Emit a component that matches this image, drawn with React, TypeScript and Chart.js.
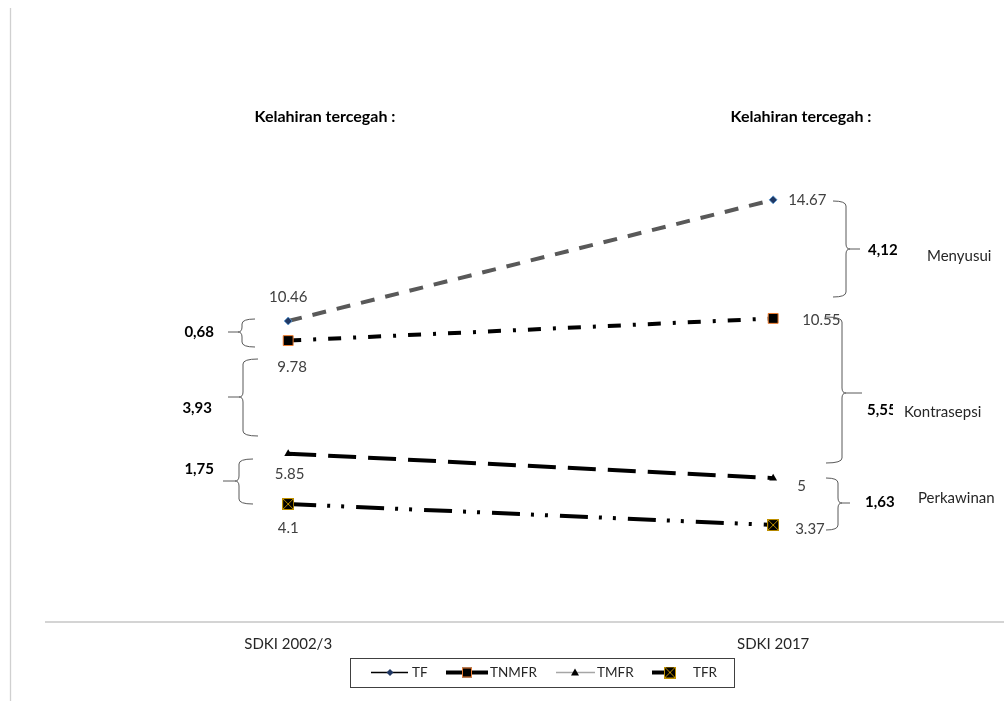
import React, { useEffect, useRef } from 'react';
import { Chart, registerables } from 'chart.js';

Chart.register(...registerables);

// ---- data ----
const periods = ['SDKI 2002/3', 'SDKI 2017'];
const seriesNames = ['TF', 'TNMFR', 'TMFR', 'TFR'];
const tfValues = [10.46, 14.67];
const tnmfrValues = [9.78, 10.55];
const tmfrValues = [5.85, 5];
const tfrValues = [4.1, 3.37];
const headerLabel = 'Kelahiran tercegah :';
const leftPrevented = ['0,68', '3,93', '1,75'];
const rightPrevented = ['4,12', '5,55', '1,63'];
const factors = ['Menyusui', 'Kontrasepsi', 'Perkawinan'];

const FONT = 'Lato, "Noto Sans", sans-serif';

function makeXSquare(): HTMLCanvasElement {
  const c = document.createElement('canvas');
  c.width = 12;
  c.height = 12;
  const g = c.getContext('2d')!;
  g.fillStyle = '#000';
  g.fillRect(0, 0, 12, 12);
  g.strokeStyle = '#bf9000';
  g.lineWidth = 1;
  g.strokeRect(0.5, 0.5, 11, 11);
  g.beginPath();
  g.moveTo(1, 1);
  g.lineTo(11, 11);
  g.moveTo(11, 1);
  g.lineTo(1, 11);
  g.stroke();
  return c;
}

function leftBrace(ctx: CanvasRenderingContext2D, vx: number, ex: number, y1: number, y2: number, ym: number, lx: number) {
  const r = 5;
  ctx.beginPath();
  ctx.moveTo(ex, y1);
  ctx.quadraticCurveTo(vx, y1, vx, y1 + r);
  ctx.lineTo(vx, ym - r);
  ctx.quadraticCurveTo(vx, ym, vx - 4, ym);
  ctx.lineTo(lx, ym);
  ctx.moveTo(vx - 4, ym);
  ctx.quadraticCurveTo(vx, ym, vx, ym + r);
  ctx.lineTo(vx, y2 - r);
  ctx.quadraticCurveTo(vx, y2, ex, y2);
  ctx.stroke();
}

function rightBrace(ctx: CanvasRenderingContext2D, vx: number, ex: number, y1: number, y2: number, ym: number, lx: number) {
  const r = 5;
  ctx.beginPath();
  ctx.moveTo(ex, y1);
  ctx.quadraticCurveTo(vx, y1, vx, y1 + r);
  ctx.lineTo(vx, ym - r);
  ctx.quadraticCurveTo(vx, ym, vx + 4, ym);
  ctx.lineTo(lx, ym);
  ctx.moveTo(vx + 4, ym);
  ctx.quadraticCurveTo(vx, ym, vx, ym + r);
  ctx.lineTo(vx, y2 - r);
  ctx.quadraticCurveTo(vx, y2, ex, y2);
  ctx.stroke();
}

// label offsets per series: [left point dx, dy, align], [right point dx, dy, align]
const labelOffsets: [number, number, CanvasTextAlign][][] = [
  [[0, -24, 'center'], [15, 0, 'left']],
  [[4, 27, 'center'], [29, 2, 'left']],
  [[1.5, 20, 'center'], [24, 8, 'left']],
  [[0, 24, 'center'], [22, 4, 'left']],
];

const annotationPlugin = {
  id: 'annotations',
  afterDraw(chart: any) {
    const ctx: CanvasRenderingContext2D = chart.ctx;
    ctx.save();

    // outer left border line
    ctx.strokeStyle = '#d0d0d0';
    ctx.lineWidth = 1.3;
    ctx.beginPath();
    ctx.moveTo(10.5, 8);
    ctx.lineTo(10.5, 701);
    ctx.stroke();

    // headers
    ctx.fillStyle = '#000';
    ctx.font = `bold 16px ${FONT}`;
    ctx.textAlign = 'center';
    ctx.textBaseline = 'middle';
    ctx.fillText(headerLabel, 325, 117);
    ctx.fillText(headerLabel, 801, 117);

    // data labels
    ctx.font = `15px ${FONT}`;
    ctx.fillStyle = '#404040';
    chart.data.datasets.forEach((ds: any, i: number) => {
      const meta = chart.getDatasetMeta(i);
      meta.data.forEach((pt: any, j: number) => {
        const [dx, dy, align] = labelOffsets[i][j];
        ctx.textAlign = align;
        ctx.fillText(String(ds.data[j].y), pt.x + dx, pt.y + dy);
      });
    });

    // braces
    ctx.strokeStyle = '#595959';
    ctx.lineWidth = 1;
    leftBrace(ctx, 242, 255, 319, 347, 332, 228);
    leftBrace(ctx, 243, 258, 359, 436, 397, 228);
    leftBrace(ctx, 239, 253, 459, 504, 481, 223);
    rightBrace(ctx, 846, 833, 201, 297, 249, 860);
    rightBrace(ctx, 842, 826, 317, 463, 393, 862);
    rightBrace(ctx, 838, 826, 478, 530, 503, 850);

    // prevented births values
    ctx.fillStyle = '#000';
    ctx.font = `bold 15px ${FONT}`;
    ctx.textAlign = 'right';
    ctx.fillText(leftPrevented[0], 214, 332);
    ctx.fillText(leftPrevented[1], 212, 408);
    ctx.fillText(leftPrevented[2], 214, 469);
    ctx.textAlign = 'left';
    ctx.fillText(rightPrevented[0], 868, 250);
    ctx.save();
    ctx.beginPath();
    ctx.rect(860, 390, 33, 40);
    ctx.clip();
    ctx.fillText(rightPrevented[1], 867, 410);
    ctx.restore();
    ctx.fillText(rightPrevented[2], 865, 502);

    // factor names
    ctx.font = `15px ${FONT}`;
    ctx.fillStyle = '#262626';
    ctx.fillText(factors[0], 927, 256);
    ctx.fillText(factors[1], 904, 412);
    ctx.fillText(factors[2], 918, 498);

    // legend
    ctx.strokeStyle = '#404040';
    ctx.lineWidth = 1;
    ctx.strokeRect(350.5, 658.5, 384, 29);
    const ly = 672.5;
    ctx.font = `13.5px ${FONT}`;
    ctx.fillStyle = '#262626';
    ctx.textAlign = 'left';
    ctx.textBaseline = 'middle';
    // TF
    ctx.strokeStyle = '#000';
    ctx.lineWidth = 1.5;
    ctx.beginPath(); ctx.moveTo(371, ly); ctx.lineTo(408, ly); ctx.stroke();
    ctx.fillStyle = '#203864';
    ctx.beginPath();
    ctx.moveTo(390, ly - 3.5); ctx.lineTo(393.5, ly); ctx.lineTo(390, ly + 3.5); ctx.lineTo(386.5, ly); ctx.closePath();
    ctx.fill();
    ctx.fillStyle = '#262626';
    ctx.fillText(seriesNames[0], 412, ly);
    // TNMFR
    ctx.strokeStyle = '#000';
    ctx.lineWidth = 4;
    ctx.beginPath(); ctx.moveTo(446, ly); ctx.lineTo(488, ly); ctx.stroke();
    ctx.fillStyle = '#000';
    ctx.fillRect(462, ly - 5, 10, 10);
    ctx.strokeStyle = '#ed7d31';
    ctx.lineWidth = 1;
    ctx.strokeRect(462.5, ly - 4.5, 9, 9);
    ctx.fillStyle = '#262626';
    ctx.fillText(seriesNames[1], 490, ly);
    // TMFR
    ctx.strokeStyle = '#a6a6a6';
    ctx.lineWidth = 1.5;
    ctx.beginPath(); ctx.moveTo(556, ly); ctx.lineTo(595, ly); ctx.stroke();
    ctx.fillStyle = '#000';
    ctx.beginPath();
    ctx.moveTo(575, ly - 4); ctx.lineTo(579, ly + 3); ctx.lineTo(571, ly + 3); ctx.closePath();
    ctx.fill();
    ctx.fillStyle = '#262626';
    ctx.fillText(seriesNames[2], 597, ly);
    // TFR
    ctx.strokeStyle = '#000';
    ctx.lineWidth = 4;
    ctx.beginPath(); ctx.moveTo(652, ly); ctx.lineTo(673, ly); ctx.stroke();
    const xsq = chart.data.datasets[3].pointStyle;
    if (xsq instanceof HTMLCanvasElement) ctx.drawImage(xsq, 664, ly - 6, 12, 12);
    ctx.fillStyle = '#262626';
    ctx.fillText(seriesNames[3], 693, ly);

    ctx.restore();
  },
};

export default function App() {
  const ref = useRef<HTMLCanvasElement | null>(null);

  useEffect(() => {
    if (!ref.current) return;
    const xsq = makeXSquare();
    const toPts = (arr: number[]) => arr.map((y, i) => ({ x: i, y }));
    const chart: any = new Chart(ref.current, {
      type: 'line',
      data: {
        datasets: [
          {
            label: seriesNames[0],
            data: toPts(tfValues),
            borderColor: '#595959',
            borderWidth: 4,
            borderDash: [14, 11],
            pointStyle: 'rectRot',
            pointRadius: 4,
            pointBackgroundColor: '#203864',
            pointBorderColor: '#5b9bd5',
            pointBorderWidth: 0.8,
          },
          {
            label: seriesNames[1],
            data: toPts(tnmfrValues),
            borderColor: '#000',
            borderWidth: 4,
            borderDash: [13, 12, 3, 12],
            pointStyle: 'rect',
            pointRadius: 7,
            pointBackgroundColor: '#000',
            pointBorderColor: '#ed7d31',
            pointBorderWidth: 1,
          },
          {
            label: seriesNames[2],
            data: toPts(tmfrValues),
            borderColor: '#000',
            borderWidth: 4,
            borderDash: [28, 12],
            pointStyle: 'triangle',
            pointRadius: 4.5,
            pointBackgroundColor: '#000',
            pointBorderColor: '#000',
            pointBorderWidth: 0,
          },
          {
            label: seriesNames[3],
            data: toPts(tfrValues),
            borderColor: '#000',
            borderWidth: 4,
            borderDash: [28, 11, 3, 11, 3, 12],
            pointStyle: xsq,
            pointRadius: 6,
          },
        ] as any,
      },
      options: {
        responsive: false,
        animation: false,
        layout: { autoPadding: false, padding: { left: 45.7, right: 0, top: 46.5, bottom: 48 } },
        plugins: { legend: { display: false }, tooltip: { enabled: false } },
        scales: {
          x: {
            type: 'linear',
            min: -0.5,
            max: 1.476,
            grid: { display: false, drawTicks: false },
            border: { display: true, color: '#d4d4d4', width: 2 },
            ticks: {
              padding: 13,
              autoSkip: false,
              maxRotation: 0,
              color: '#262626',
              font: { family: FONT, size: 15 },
              callback: (v: any) => periods[Math.round(Number(v))] ?? '',
            },
            afterBuildTicks: (s: any) => {
              s.ticks = periods.map((_, i) => ({ value: i }));
            },
            afterFit: (s: any) => {
              s.height = 31;
              s.paddingLeft = 0;
              s.paddingRight = 0;
            },
          },
          y: { display: false, min: 0, max: 20 },
        },
      } as any,
      plugins: [annotationPlugin],
    });
    return () => chart.destroy();
  }, []);

  return (
    <div style={{ position: 'fixed', left: 0, top: 0, width: 1004, height: 701, background: '#fff' }}>
      <canvas ref={ref} width={1004} height={701} />
    </div>
  );
}
